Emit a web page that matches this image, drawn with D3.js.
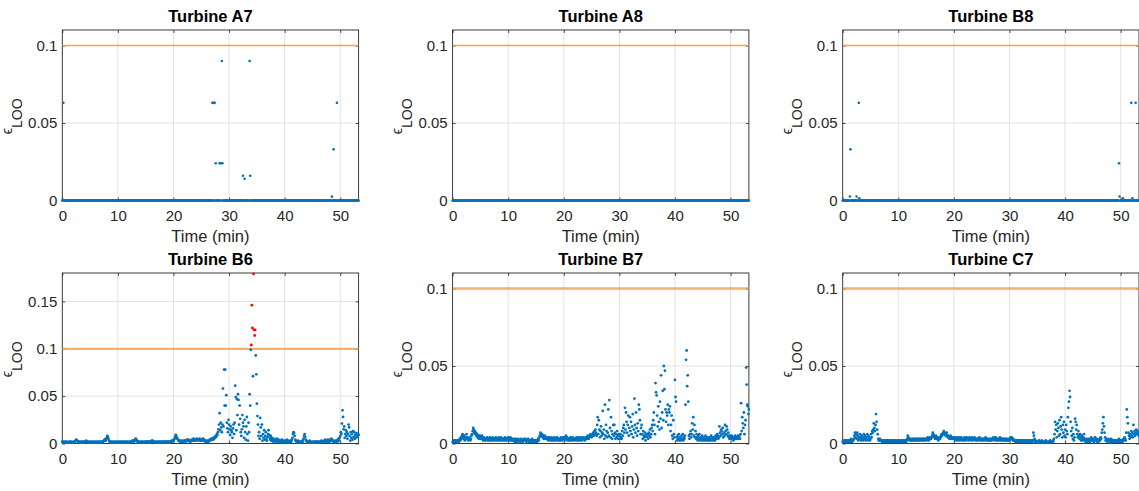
<!DOCTYPE html>
<html>
<head>
<meta charset="utf-8">
<script src="https://cdn.jsdelivr.net/npm/d3@7"></script>
<style>
  body { margin: 0; background: #fff; }
  svg { display: block; font-family: "Liberation Sans", Arial, Helvetica, sans-serif; }
</style>
</head>
<body>
<svg id="chart" width="1139" height="491"></svg>
<script>
"use strict";

// sampling grid (minutes) and axis ticks
const timeStep = 0.1;
const sampleCount = 534;
const xMax = 53.3;
const xTicks = [0, 10, 20, 30, 40, 50];
const yTicksDefault = [0, 0.05, 0.1];
const yTicksB6 = [0, 0.05, 0.1, 0.15];
const threshold = 0.1;

const panelTitles = ["Turbine A7", "Turbine A8", "Turbine B8", "Turbine B6", "Turbine B7", "Turbine C7"];
const panelYMax = [0.11, 0.11, 0.11, 0.18, 0.11, 0.11];

// top row: error is zero except for these [time, value x1000] points
const a7Outliers = [
    [0.2, 63], [27.0, 63], [27.2, 63], [27.4, 63], [27.6, 24], [28.3, 24], [28.5, 24],
    [28.7, 90], [28.8, 24], [32.5, 16], [32.8, 14], [33.7, 90], [33.8, 16],
    [48.5, 2.5], [48.8, 33], [49.4, 63]
];
const a8Outliers = [];
const b8Outliers = [
    [1.3, 2.6], [1.4, 33], [2.5, 2.6], [2.9, 63], [3.0, 1.5], [49.7, 24], [49.8, 2.6],
    [50.4, 1.5], [51.9, 63], [52.1, 1.5], [52.7, 63]
];

// bottom row: value x1000, one row per minute (t = m.0 ... m.9)
const b6Values = [
    2,1,2,1,1,2,1,2,1,1,
    1,2,1,1,2,1,1,2,1,1,
    1,2,1,2,3,4,3,3,2,2,
    1,2,1,1,2,1,2,1,1,2,
    1,2,2,3,2,2,1,2,1,1,
    2,1,1,2,1,2,1,1,2,1,
    1,2,1,1,2,1,2,1,1,2,
    1,2,1,2,2,3,4,4,3,5,
    6,8,7,5,3,2,2,1,2,1,
    1,2,1,1,2,1,1,2,1,1,
    2,1,1,2,1,1,2,1,2,1,
    1,2,1,1,2,1,2,1,1,2,
    1,1,2,1,2,2,3,3,2,2,
    3,4,5,4,3,2,2,1,2,1,
    1,2,1,2,1,1,2,1,1,2,
    1,2,2,1,2,2,1,2,1,2,
    2,3,3,2,2,1,2,1,1,2,
    1,2,1,1,2,1,2,1,2,1,
    1,2,1,2,2,1,2,1,2,1,
    2,1,2,2,1,2,2,3,2,3,
    3,4,5,7,9,8,6,5,4,3,
    3,2,2,3,2,2,3,2,2,3,
    2,3,3,2,4,3,3,4,3,2,
    3,2,3,4,3,4,5,3,3,4,
    3,4,5,4,4,3,4,5,4,3,
    3,4,3,5,4,4,3,2,3,2,
    2,3,2,2,3,4,3,4,5,4,
    5,4,6,5,7,6,8,7,10,9,
    12,15,20,32,14,22,17,12,20,58,
    18,78,40,78,40,51,22,16,12,25,
    20,15,9,18,14,12,6,16,20,10,
    22,61,49,14,47,30,52,46,20,40,
    26,12,8,15,30,22,18,6,25,12,
    4,18,28,10,3,22,12,52,40,99,
    104,146,122,71,179,120,114,120,93,73,
    42,29,20,8,12,5,27,17,8,20,
    3,10,6,14,4,8,12,5,3,7,
    10,14,9,6,4,8,3,6,4,2,
    5,3,2,4,3,2,5,3,2,4,
    3,1,2,3,2,4,2,1,3,2,
    2,3,1,2,4,2,1,3,2,1,
    2,3,2,4,6,10,12,11,8,4,
    3,2,1,2,3,2,1,2,1,2,
    1,2,3,2,5,8,10,7,4,3,
    2,1,2,1,2,3,1,2,1,1,
    2,1,1,2,1,2,1,2,2,1,
    1,2,1,2,1,2,3,2,1,2,
    2,3,2,4,3,2,2,3,4,2,
    3,2,4,3,5,4,3,2,3,2,
    1,2,3,2,3,2,4,5,3,6,
    8,12,10,21,35,28,15,18,6,10,
    14,8,12,5,10,20,17,8,3,12,
    6,10,4,13,7,12,5,9,6,11,
    8,7,10,9
];
const b7Values = [
    1,1,2,1,1,2,1,1,2,1,
    2,1,2,3,2,4,3,5,6,4,
    3,5,2,4,3,6,4,3,2,3,
    4,3,2,3,5,6,8,10,9,7,
    8,6,7,5,6,4,5,3,4,5,
    3,4,3,5,3,2,4,3,2,3,
    2,3,4,3,2,3,2,4,3,2,
    3,2,4,3,2,3,3,2,4,3,
    2,3,2,4,3,2,3,4,2,3,
    3,2,3,2,4,3,2,3,2,3,
    4,3,2,3,4,2,3,2,3,2,
    2,3,1,2,3,2,1,2,3,2,
    2,1,2,3,2,2,1,2,3,2,
    2,3,2,1,2,2,3,2,1,2,
    2,1,2,3,2,1,2,2,1,2,
    2,2,1,2,3,2,4,5,7,6,
    5,6,4,5,3,4,5,3,4,3,
    3,4,2,3,4,3,2,3,4,2,
    3,2,3,4,2,3,2,3,4,3,
    2,3,2,3,2,4,3,2,3,4,
    3,4,2,3,5,3,4,2,3,2,
    3,2,4,3,2,3,4,2,3,3,
    2,3,3,4,2,3,2,4,3,2,
    3,4,3,2,3,4,3,3,2,4,
    3,4,3,5,4,3,4,5,6,5,
    4,5,6,7,5,8,6,9,7,5,
    12,17,6,15,9,4,8,11,5,7,
    21,6,9,3,25,5,12,8,4,7,
    22,5,28,10,4,17,8,3,6,12,
    5,12,7,3,6,4,8,5,3,6,
    5,3,6,4,3,8,5,10,12,7,
    23,9,20,14,7,12,18,5,10,17,
    8,14,6,11,19,4,9,29,12,7,
    20,10,5,13,8,25,22,15,6,10,
    12,6,3,8,5,4,7,2,5,6,
    4,6,3,7,5,9,4,6,10,12,
    8,15,20,12,6,39,33,31,18,11,
    24,14,9,27,16,44,10,20,34,15,
    50,35,47,22,14,20,18,25,12,22,
    20,24,8,12,18,5,3,15,6,4,
    41,30,27,4,2,5,3,6,2,4,
    3,2,5,3,6,2,4,3,5,25,
    54,60,37,44,27,5,3,6,8,4,
    6,13,9,17,5,12,4,8,3,6,
    4,2,5,3,6,2,4,3,2,5,
    3,2,4,2,3,5,2,3,4,2,
    3,2,4,2,3,5,2,4,3,2,
    4,3,2,5,3,4,6,5,3,4,
    11,7,5,9,8,6,10,4,7,5,
    12,8,6,11,9,5,7,4,3,5,
    4,3,5,3,4,2,4,3,5,3,
    4,3,4,5,3,4,5,3,6,26,
    8,17,13,10,20,6,12,15,49,38,
    25,24,19,22
];
const c7Values = [
    1,2,1,1,2,1,2,1,1,2,
    2,1,2,1,2,3,2,1,2,2,
    3,5,7,4,6,3,7,5,2,4,
    3,6,4,2,5,3,2,4,6,3,
    5,2,4,3,6,2,5,3,4,2,
    3,6,4,8,7,9,13,10,8,12,
    19,14,9,6,3,2,2,3,2,2,
    2,1,2,2,1,2,2,1,2,1,
    2,1,2,2,1,2,1,2,2,1,
    1,2,1,1,2,1,2,1,2,1,
    1,2,1,2,1,1,2,1,2,1,
    2,1,2,2,1,2,3,5,4,3,
    2,3,2,3,2,2,3,2,3,2,
    3,2,3,2,3,3,2,3,2,3,
    2,3,3,2,3,2,3,3,2,3,
    3,2,3,4,3,2,3,4,3,3,
    4,5,7,6,5,4,3,4,5,3,
    4,3,2,3,4,3,4,5,6,5,
    6,7,8,7,6,5,6,7,5,4,
    5,4,3,4,5,3,4,3,4,3,
    3,4,3,2,3,4,3,2,3,4,
    3,2,3,4,3,2,3,3,2,4,
    3,2,3,4,3,3,2,3,4,3,
    2,3,4,3,2,3,3,4,3,2,
    3,2,3,3,2,3,4,3,2,3,
    2,3,3,2,3,2,3,4,3,2,
    3,2,3,2,2,3,2,3,2,3,
    3,4,3,2,3,4,3,2,3,2,
    3,2,3,4,3,2,3,2,3,3,
    2,3,2,3,2,3,2,2,3,2,
    2,3,4,3,4,3,2,3,2,2,
    2,1,2,1,2,2,1,2,1,2,
    1,2,1,2,2,1,2,1,1,2,
    1,2,1,2,1,2,1,1,2,1,
    2,1,2,7,5,3,1,2,1,1,
    1,0.5,1,2,1,0.5,1,1,2,1,
    0.5,1,1,0.5,1,2,1,0.5,1,1,
    0.5,1,1,2,1,1,0.5,1,1,2,
    3,6,14,9,12,4,8,13,10,5,
    15,6,11,17,9,4,12,7,14,5,
    9,4,12,8,6,17,23,27,34,30,
    14,8,5,10,3,6,2,4,16,14,
    9,12,6,4,8,5,3,6,4,2,
    5,3,2,4,6,3,2,1,2,3,
    1,2,1,3,2,1,2,4,3,2,
    3,2,1,2,4,3,2,3,1,2,
    1,2,3,2,4,3,7,9,13,17,
    11,7,4,2,3,2,1,2,3,2,
    2,1,2,3,2,1,2,2,1,2,
    1,2,1,2,2,1,2,3,2,1,
    2,1,2,1,2,3,2,4,3,2,
    7,22,17,13,7,5,3,6,4,8,
    5,7,4,12,6,8,5,7,9,6,
    8,6,7,5
];

// style / layout
const blue = "#0072BD";
const red = "#FF0000";
const thresholdColor = "#EE9F45";
const gridColor = "#e2e2e2";
const axisColor = "#262626";
const panelLefts = [62.3, 452.6, 842.7];
const panelTops = [30, 273];
const panelWidth = 296.3;
const panelHeight = 170.5;

const sampleTimes = d3.range(sampleCount).map((i) => Math.round(i * timeStep * 10) / 10);

const seriesFromOutliers = (outliers) => {
    const lookup = new Map(outliers.map(([t, v]) => [Math.round(t * 10), v]));
    return sampleTimes.map((t) => ({ t, v: (lookup.get(Math.round(t * 10)) || 0) / 1000 }));
};
const seriesFromValues = (values) =>
    sampleTimes.map((t, i) => ({ t, v: values[i] / 1000 })).filter((d) => !isNaN(d.v));

const panelSeries = [
    seriesFromOutliers(a7Outliers),
    seriesFromOutliers(a8Outliers),
    seriesFromOutliers(b8Outliers),
    seriesFromValues(b6Values),
    seriesFromValues(b7Values),
    seriesFromValues(c7Values)
];

const svg = d3.select("#chart");

const styleAxis = (g) => {
    g.select(".domain").remove();
    g.selectAll(".tick line").attr("stroke", axisColor).attr("stroke-width", 0.8);
    g.selectAll(".tick text")
        .attr("fill", axisColor)
        .attr("font-size", 15)
        .attr("font-family", "Liberation Sans, Arial, Helvetica, sans-serif");
};

const drawPanel = (title, i) => {
    const col = i % 3;
    const row = Math.floor(i / 3);
    const left = panelLefts[col];
    const top = panelTops[row];
    const yMax = panelYMax[i];
    const yTicks = i === 3 ? yTicksB6 : yTicksDefault;
    const points = panelSeries[i];
    const dotRadius = row === 0 ? 1.3 : 1.4;

    const x = d3.scaleLinear().domain([0, xMax]).range([0, panelWidth]);
    const y = d3.scaleLinear().domain([0, yMax]).range([panelHeight, 0]);

    const g = svg.append("g").attr("transform", `translate(${left},${top})`);

    // grid
    g.append("g")
        .selectAll("line")
        .data(xTicks.filter((d) => d > 0))
        .join("line")
        .attr("x1", (d) => x(d))
        .attr("x2", (d) => x(d))
        .attr("y1", 0)
        .attr("y2", panelHeight)
        .attr("stroke", gridColor)
        .attr("stroke-width", 1);
    g.append("g")
        .selectAll("line")
        .data(yTicks.filter((d) => d > 0 && d !== threshold))
        .join("line")
        .attr("x1", 0)
        .attr("x2", panelWidth)
        .attr("y1", (d) => y(d))
        .attr("y2", (d) => y(d))
        .attr("stroke", gridColor)
        .attr("stroke-width", 1);

    // axes, ticks pointing inward on all four sides
    g.append("g")
        .attr("transform", `translate(0,${panelHeight})`)
        .call(d3.axisBottom(x).tickValues(xTicks).tickSize(-3).tickPadding(10).tickFormat(d3.format("d")))
        .call(styleAxis);
    g.append("g")
        .call(d3.axisLeft(y).tickValues(yTicks).tickSize(-3).tickPadding(5).tickFormat((d) => String(+d.toFixed(2))))
        .call(styleAxis);
    g.append("g")
        .call(d3.axisTop(x).tickValues(xTicks).tickSize(-3).tickFormat(""))
        .call(styleAxis);
    g.append("g")
        .attr("transform", `translate(${panelWidth},0)`)
        .call(d3.axisRight(y).tickValues(yTicks).tickSize(-3).tickFormat(""))
        .call(styleAxis);

    g.append("rect")
        .attr("width", panelWidth)
        .attr("height", panelHeight)
        .attr("fill", "none")
        .attr("stroke", axisColor)
        .attr("stroke-width", 0.9);

    // threshold
    g.append("line")
        .attr("x1", x(0))
        .attr("x2", x(xMax))
        .attr("y1", y(threshold))
        .attr("y2", y(threshold))
        .attr("stroke", thresholdColor)
        .attr("stroke-width", row === 0 ? 1.7 : 2.3)
        .attr("stroke-opacity", row === 0 ? 0.95 : 0.8);

    // points (drawn over the box like the original)
    g.append("g")
        .selectAll("circle")
        .data(points)
        .join("circle")
        .attr("cx", (d) => x(d.t))
        .attr("cy", (d) => y(d.v))
        .attr("r", dotRadius)
        .attr("fill", (d) => (d.v > threshold ? red : blue));

    // title
    g.append("text")
        .attr("x", panelWidth / 2)
        .attr("y", -8)
        .attr("text-anchor", "middle")
        .attr("font-size", 16.5)
        .attr("font-weight", "bold")
        .attr("fill", "#000")
        .text(title);

    // x label
    g.append("text")
        .attr("x", panelWidth / 2)
        .attr("y", panelHeight + 41.5)
        .attr("text-anchor", "middle")
        .attr("font-size", 16.5)
        .attr("fill", axisColor)
        .text("Time (min)");

    // y label: epsilon with LOO subscript
    const yLabel = g.append("text")
        .attr("transform", `translate(-50.5,${panelHeight / 2 + 1}) rotate(-90)`)
        .attr("text-anchor", "middle")
        .attr("fill", axisColor);
    yLabel.append("tspan").attr("font-size", 14).text("\u03F5");
    yLabel.append("tspan").attr("font-size", 14).attr("dy", 10).text("LOO");
};

panelTitles.forEach(drawPanel);
</script>
</body>
</html>
